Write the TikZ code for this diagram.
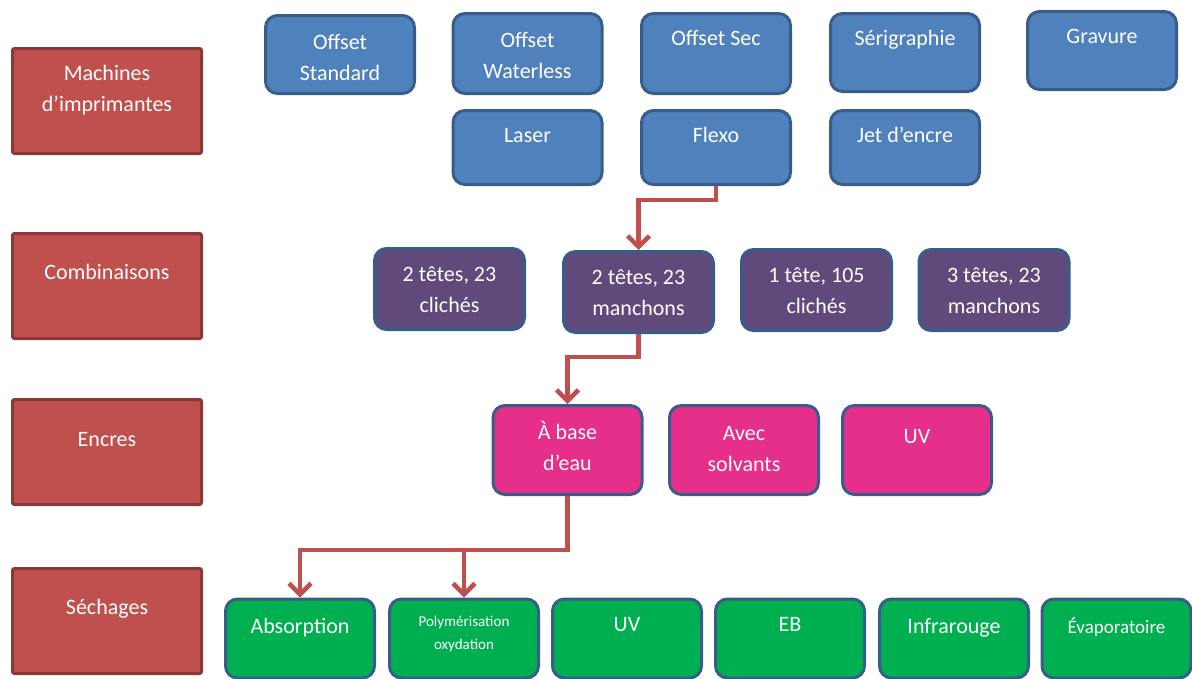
\documentclass[tikz,border=0pt]{standalone}
\usepackage{fontspec}
\setmainfont{Carlito}
\usetikzlibrary{arrows.meta}
\definecolor{redfill}{HTML}{C0504D}
\definecolor{redline}{HTML}{8C3836}
\definecolor{bluefill}{HTML}{4F81BD}
\definecolor{blueline}{HTML}{385D8A}
\definecolor{purplefill}{HTML}{604A7B}
\definecolor{pinkfill}{HTML}{E62E8B}
\definecolor{greenfill}{HTML}{00B050}
\definecolor{arrowred}{HTML}{C0504D}
\newcommand\fl{\rule{0pt}{20pt}}
\tikzset{
  box/.style={draw=blueline, line width=3pt, rounded corners=12pt, inner sep=0pt, outer sep=1.5pt},
  catbox/.style={box, draw=redline, fill=redfill, rounded corners=2pt, minimum width=189pt, minimum height=105pt},
  bluebox/.style={box, fill=bluefill, minimum width=149pt},
  purplebox/.style={box, fill=purplefill, minimum width=150pt, minimum height=81pt},
  pinkbox/.style={box, fill=pinkfill, minimum width=149pt, minimum height=89pt},
  greenbox/.style={box, fill=greenfill, minimum width=149pt, minimum height=79pt},
  txt/.style={text=white, font=\fontsize{22}{31}\selectfont, align=center, inner sep=0pt, anchor=north},
  smalltxt/.style={txt, font=\fontsize{15}{23}\selectfont},
  midtxt/.style={txt, font=\fontsize{19}{27}\selectfont},
  arr/.style={draw=arrowred, line width=4.5pt, -{Straight Barb[length=11pt,width=22pt]}},
}
\begin{document}
\begin{tikzpicture}[x=1pt,y=-1pt]
\useasboundingbox (0,0) rectangle (1192,678);
% category boxes
\node[catbox] (c1) at (107,101) {};
\node[catbox] (c2) at (107,286) {};
\node[catbox] (c3) at (107,452) {};
\node[catbox] (c4) at (107,621) {};
\node[txt] (c1t) at ([yshift=-13pt]c1.north) {\fl Machines\\d’imprimantes};
\node[txt] (c2t) at ([yshift=-27pt]c2.north) {\fl Combinaisons};
\node[txt] (c3t) at ([yshift=-28pt]c3.north) {\fl Encres};
\node[txt] (c4t) at ([yshift=-27pt]c4.north) {\fl Séchages};
% machines
\node[bluebox, minimum height=78pt] (os) at (340,54.5) {};
\node[bluebox, minimum height=80pt] (ow) at (527.5,53.5) {};
\node[bluebox, minimum height=80pt] (osec) at (716,53.5) {};
\node[bluebox, minimum height=78pt] (ser) at (905,52.5) {};
\node[bluebox, minimum height=78pt] (grav) at (1102,50.5) {};
\node[bluebox, minimum height=74pt] (laser) at (527.5,147.5) {};
\node[bluebox, minimum height=74pt] (flexo) at (716,147.5) {};
\node[bluebox, minimum height=74pt] (jet) at (905,147.5) {};
\node[txt] (ost) at ([yshift=-15pt]os.north) {\fl Offset\\Standard};
\node[txt] (owt) at ([yshift=-15pt]ow.north) {\fl Offset\\Waterless};
\node[txt] (osect) at ([yshift=-13pt]osec.north) {\fl Offset Sec};
\node[txt] (sert) at ([yshift=-13pt]ser.north) {\fl Sérigraphie};
\node[txt] (gravt) at ([yshift=-13pt]grav.north) {\fl Gravure};
\node[txt] (lasert) at ([yshift=-13pt]laser.north) {\fl Laser};
\node[txt] (flexot) at ([yshift=-13pt]flexo.north) {\fl Flexo};
\node[txt] (jett) at ([yshift=-13pt]jet.north) {\fl Jet d’encre};
% combinaisons
\node[purplebox] (p1) at (449.5,289) {};
\node[purplebox] (p2) at (638.5,292) {};
\node[purplebox] (p3) at (816.5,290) {};
\node[purplebox] (p4) at (994,290) {};
\node[txt] (p1t) at ([yshift=-14pt]p1.north) {\fl 2 têtes, 23\\clichés};
\node[txt] (p2t) at ([yshift=-14pt]p2.north) {\fl 2 têtes, 23\\manchons};
\node[txt] (p3t) at ([yshift=-14pt]p3.north) {\fl 1 tête, 105\\clichés};
\node[txt] (p4t) at ([yshift=-14pt]p4.north) {\fl 3 têtes, 23\\manchons};
% encres
\node[pinkbox] (e1) at (567.5,450) {};
\node[pinkbox] (e2) at (744,450) {};
\node[pinkbox] (e3) at (917,450) {};
\node[txt] (e1t) at ([yshift=-15pt]e1.north) {\fl À base\\d’eau};
\node[txt] (e2t) at ([yshift=-16pt]e2.north) {\fl Avec\\solvants};
\node[txt] (e3t) at ([yshift=-19pt]e3.north) {\fl UV};
% sechages
\node[greenbox] (s1) at (300,638.5) {};
\node[greenbox] (s2) at (464,638.5) {};
\node[greenbox] (s3) at (627,638.5) {};
\node[greenbox] (s4) at (790,638.5) {};
\node[greenbox] (s5) at (954,638.5) {};
\node[greenbox] (s6) at (1116.5,638.5) {};
\node[txt] (s1t) at ([yshift=-16pt]s1.north) {\fl Absorption};
\node[smalltxt] (s2t) at ([yshift=-9pt]s2.north) {\fl Polymérisation\\oxydation};
\node[txt] (s3t) at ([yshift=-14pt]s3.north) {\fl UV};
\node[txt] (s4t) at ([yshift=-14pt]s4.north) {\fl EB};
\node[txt] (s5t) at ([yshift=-16pt]s5.north) {\fl Infrarouge};
\node[midtxt] (s6t) at ([yshift=-16pt]s6.north) {\fl Évaporatoire};
% connectors
\draw[arr] (flexo.south) -- ++(0,14) -| (p2.north);
\draw[arr] (p2.south) -- ++(0,23) -| (e1.north);
\draw[arr] (e1.south) -- ++(0,54) -| (s1.north);
\draw[arr] (e1.south) -- ++(0,54) -| (s2.north);
\end{tikzpicture}
\end{document}
